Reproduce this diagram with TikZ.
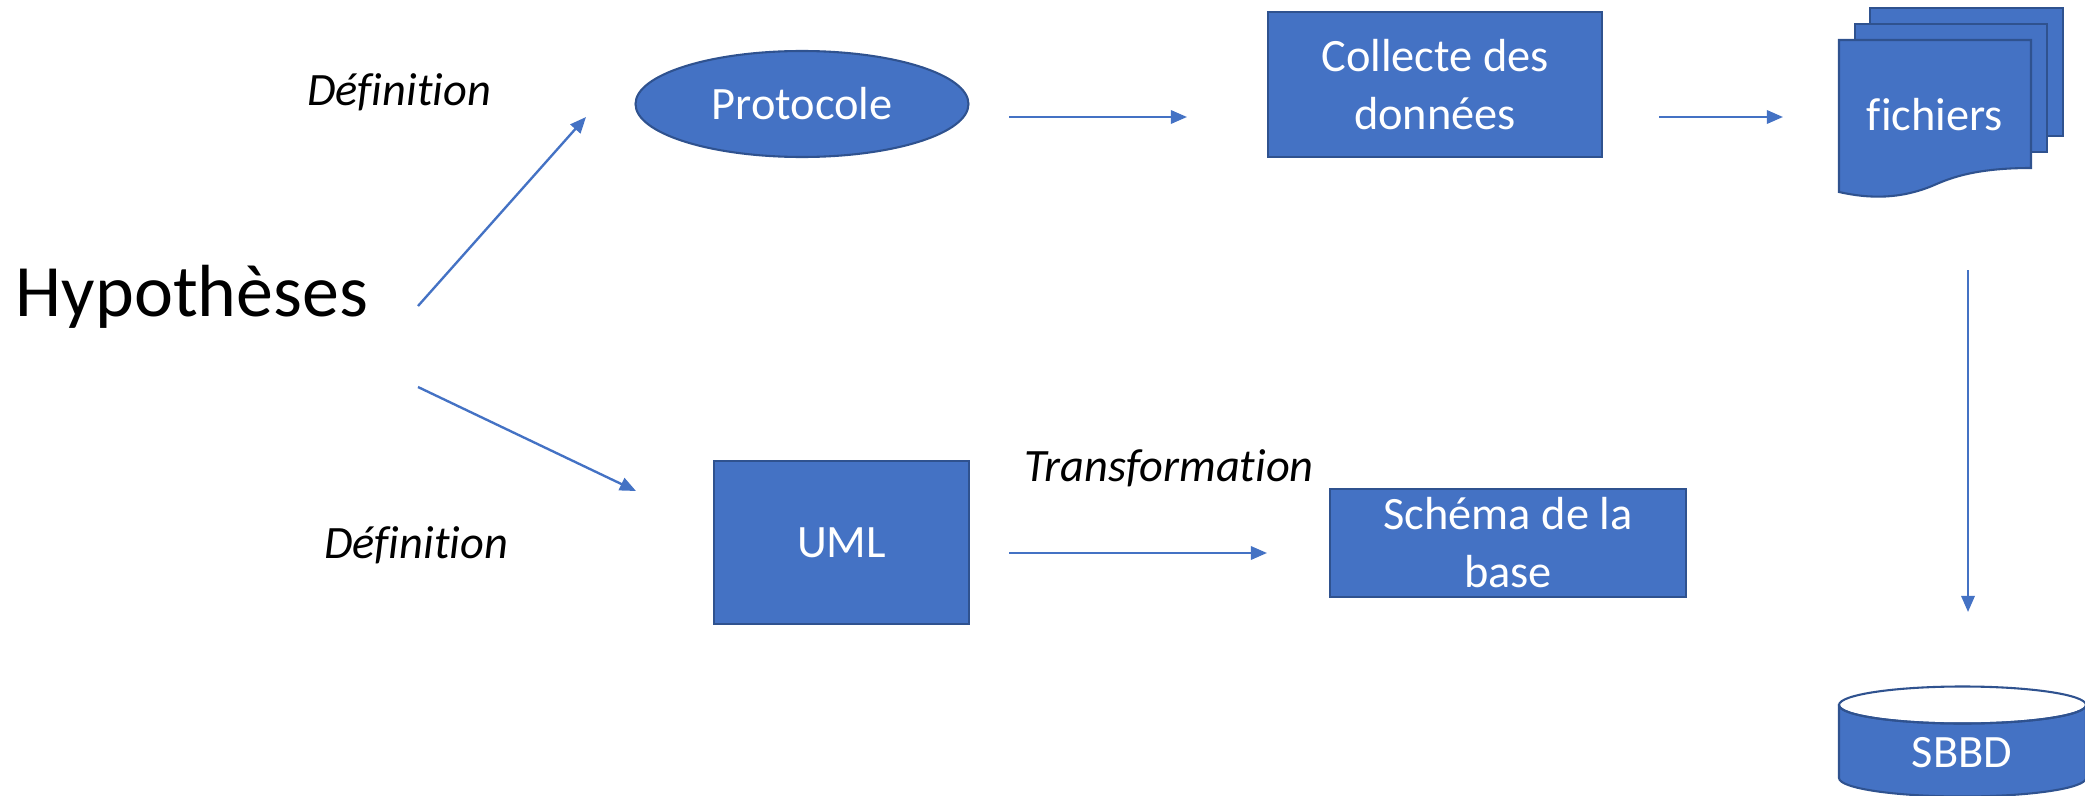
\documentclass[tikz,border=0pt]{standalone}
\usepackage{fontspec}
\setmainfont{Carlito}[Ligatures=CommonOff]
\usetikzlibrary{arrows.meta,shapes.geometric}
\definecolor{boxfill}{HTML}{4472C4}
\definecolor{boxline}{HTML}{2F528F}

\begin{document}
\begin{tikzpicture}[x=0.36pt,y=-0.36pt,
  shapebox/.style={draw=boxline, fill=boxfill, line width=0.75pt, text=white,
    font=\fontsize{16.7}{20.9}\selectfont, align=center, inner sep=0pt},
  pagestyle/.style={draw=boxline, fill=boxfill, line width=0.75pt},
  flow/.style={draw=boxfill, line width=0.85pt, -{Triangle[length=5.8pt,width=4.8pt]}},
  lbl/.style={font=\fontsize{16.7}{20}\selectfont\itshape, inner sep=0pt, anchor=base}]
\useasboundingbox (0,0) rectangle (2085,796);

% title word
\node[font=\fontsize{26.6}{32}\selectfont, inner sep=0pt, anchor=base] (hyp) at (192,316) {Hypothèses};

% upper branch
\node[shapebox, ellipse, minimum width={333*0.36pt}, minimum height={106*0.36pt}] (proto) at (802,104) {Protocole};
\node[shapebox, rectangle, minimum width={334*0.36pt}, minimum height={145*0.36pt}] (collecte) at (1435,84.5) {Collecte des\\données};

% stacked documents
\path[pagestyle] (1870,8) rectangle (2063,136);
\path[pagestyle] (1855,24) rectangle (2047,152);
\path[pagestyle] (1839,40) -- (2031,40) -- (2031,168)
  .. controls (1975,168) and (1950,178) .. (1932,186)
  .. controls (1900,199) and (1870,199) .. (1839,192) -- cycle;
\node[text=white, font=\fontsize{16.7}{20}\selectfont, inner sep=0pt, anchor=base] (fichiers) at (1935,131) {fichiers};

% database cylinder
\path[pagestyle] (1839,705) -- (1839,778)
  arc[start angle=180, end angle=0, x radius=123.5, y radius=18.5]
  -- (2086,705) arc[start angle=0, end angle=180, x radius=123.5, y radius=18.5] -- cycle;
\draw[boxline, line width=0.75pt] (1962.5,705) ellipse[x radius=123.5, y radius=18.5];
\node[text=white, font=\fontsize{16.7}{20}\selectfont, inner sep=0pt, anchor=base] (sbbd) at (1962,767) {SBBD};

% lower branch
\node[shapebox, rectangle, minimum width={255*0.36pt}, minimum height={163*0.36pt}] (uml) at (841.5,542.5) {UML};
\node[shapebox, rectangle, minimum width={356*0.36pt}, minimum height={108*0.36pt}] (schema) at (1508,543) {Schéma de la\\base};

% labels
\node[lbl] (def1) at (399,105) {Définition};
\node[lbl] (def2) at (416,558) {Définition};
\node[lbl] (trans) at (1169,481) {Transformation};

% connector end points
\coordinate (a1s) at (418,306);  \coordinate (a1e) at (586,117);
\coordinate (a2s) at (418,387);  \coordinate (a2e) at (636,491);
\coordinate (a3s) at (1009,117); \coordinate (a3e) at (1187,117);
\coordinate (a4s) at (1659,117); \coordinate (a4e) at (1783,117);
\coordinate (a5s) at (1968,270); \coordinate (a5e) at (1968,612);
\coordinate (a6s) at (1009,553); \coordinate (a6e) at (1267,553);

\draw[flow] (a1s) -- (a1e);
\draw[flow] (a2s) -- (a2e);
\draw[flow] (a3s) -- (a3e);
\draw[flow] (a4s) -- (a4e);
\draw[flow] (a5s) -- (a5e);
\draw[flow] (a6s) -- (a6e);
\end{tikzpicture}
\end{document}
